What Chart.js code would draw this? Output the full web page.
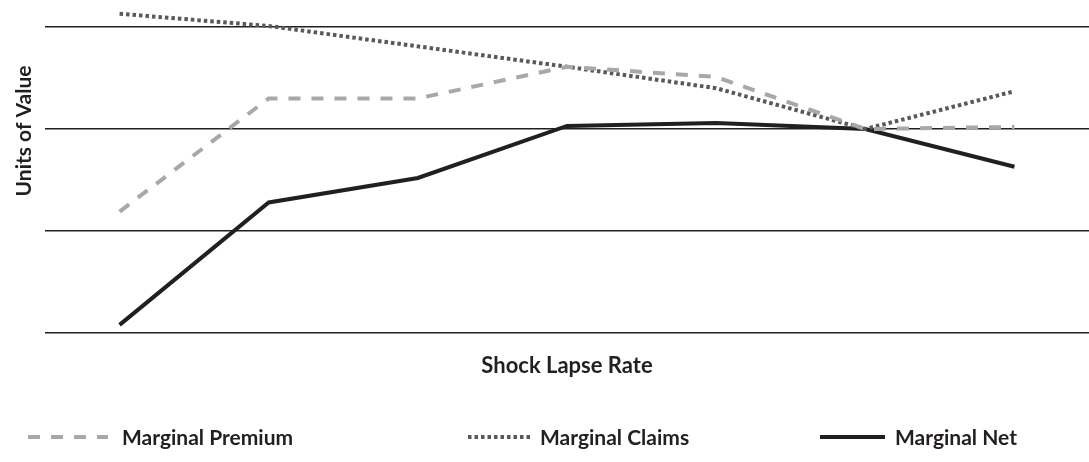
<!DOCTYPE html>
<html>
<head>
<meta charset="utf-8">
<script src="https://cdn.jsdelivr.net/npm/chart.js@4/dist/chart.umd.min.js"></script>
<style>
  html, body { margin: 0; padding: 0; background: #ffffff; }
  #wrap { width: 1089px; height: 462px; position: relative; }
</style>
</head>
<body>
<div id="wrap"><canvas id="c"></canvas></div>
<script>
// Categories (shock lapse rate steps, unlabeled in the original)
const categories = ['1', '2', '3', '4', '5', '6', '7'];
// Series values (units of value)
const marginalPremium = [-0.81, 0.30, 0.30, 0.61, 0.51, 0.00, 0.02];
const marginalClaims  = [1.13, 1.01, 0.81, 0.61, 0.40, 0.00, 0.37];
const marginalNet     = [-1.92, -0.72, -0.48, 0.03, 0.06, 0.00, -0.37];
// Y tick values (gridlines only, no labels shown)
const yTicks = [-2, -1, 0, 1];

const seriesNames = ['Marginal Premium', 'Marginal Claims', 'Marginal Net'];
const FONT = 'Lato, "Open Sans", sans-serif';

const customText = {
  id: 'customText',
  afterDraw(chart) {
    const ctx = chart.ctx;
    ctx.save();
    // Y axis title
    ctx.translate(24, 131);
    ctx.rotate(-Math.PI / 2);
    ctx.fillStyle = '#231f20';
    ctx.font = 'bold 21px ' + FONT;
    ctx.textAlign = 'center';
    ctx.textBaseline = 'middle';
    ctx.fillText('Units of Value', 0, 0);
    ctx.restore();

    // Legend
    const legendY = 437;
    const items = [
      { x0: 28, x1: 108, tx: 122 },
      { x0: 468, x1: 530, tx: 540 },
      { x0: 820, x1: 885, tx: 895 }
    ];
    chart.data.datasets.forEach((ds, i) => {
      const it = items[i];
      ctx.save();
      ctx.strokeStyle = ds.borderColor;
      ctx.lineWidth = ds.borderWidth;
      ctx.setLineDash(ds.borderDash || []);
      ctx.beginPath();
      ctx.moveTo(it.x0, legendY);
      ctx.lineTo(it.x1, legendY);
      ctx.stroke();
      ctx.setLineDash([]);
      ctx.fillStyle = '#231f20';
      ctx.font = 'bold 21px ' + FONT;
      ctx.textAlign = 'left';
      ctx.textBaseline = 'middle';
      ctx.fillText(ds.label, it.tx, legendY + 1);
      ctx.restore();
    });
  }
};

new Chart(document.getElementById('c'), {
  type: 'line',
  data: {
    labels: categories,
    datasets: [
      {
        label: seriesNames[0],
        data: marginalPremium,
        borderColor: '#a7a8aa',
        borderWidth: 4,
        borderDash: [12, 11],
        pointRadius: 0,
        tension: 0,
        clip: false,
        fill: false
      },
      {
        label: seriesNames[1],
        data: marginalClaims,
        borderColor: '#58595b',
        borderWidth: 4,
        borderDash: [3.5, 3],
        pointRadius: 0,
        tension: 0,
        clip: false,
        fill: false
      },
      {
        label: seriesNames[2],
        data: marginalNet,
        borderColor: '#231f20',
        borderWidth: 4,
        pointRadius: 0,
        tension: 0,
        clip: false,
        fill: false
      }
    ]
  },
  options: {
    responsive: true,
    maintainAspectRatio: false,
    animation: false,
    layout: { padding: { left: 45, right: 0, top: 27, bottom: 0 } },
    plugins: {
      legend: { display: false },
      tooltip: { enabled: false }
    },
    scales: {
      x: {
        type: 'category',
        offset: true,
        grid: { display: false, drawTicks: false },
        border: { display: false },
        ticks: { display: false },
        title: {
          display: true,
          text: 'Shock Lapse Rate',
          color: '#231f20',
          font: { family: FONT, size: 22, weight: 'bold' },
          padding: { top: 20, bottom: 82.6 }
        }
      },
      y: {
        min: -2,
        max: 1,
        afterBuildTicks(scale) {
          scale.ticks = yTicks.map(v => ({ value: v }));
        },
        grid: { color: '#231f20', lineWidth: 1.5, drawTicks: false },
        border: { display: false },
        ticks: { display: false }
      }
    }
  },
  plugins: [customText]
});
</script>
</body>
</html>
